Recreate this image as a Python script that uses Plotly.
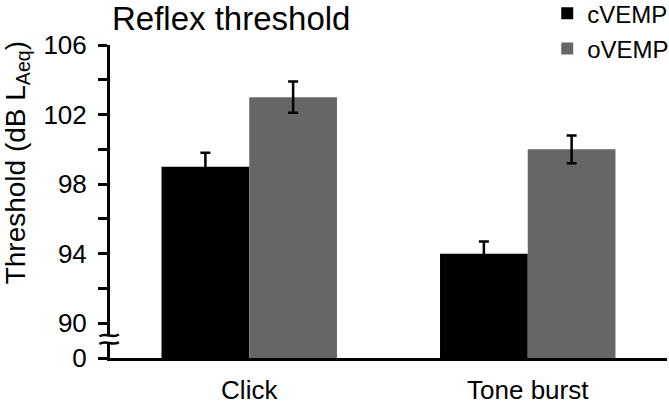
import plotly.graph_objects as go

# Reflex threshold data (dB LAeq); broken y axis: "0" sits just below 90
stimuli = ["Click", "Tone burst"]
cvemp = [99, 94]
cvemp_err = [0.8, 0.7]
ovemp = [103, 100]
ovemp_err = [0.9, 0.8]

tick_vals = [88, 90, 92, 94, 96, 98, 100, 102, 104, 106]
tick_text = ["0", "90", "", "94", "", "98", "", "102", "", "106"]

FONT = "Arial, Liberation Sans, sans-serif"

fig = go.Figure()
fig.add_bar(
    x=stimuli, y=cvemp, name="cVEMP", legendgroup="c",
    marker=dict(color="#000000", line=dict(width=0)),
    error_y=dict(type="data", array=cvemp_err, color="black", thickness=2.5, width=5),
)
fig.add_bar(
    x=stimuli, y=ovemp, name="oVEMP", legendgroup="o",
    marker=dict(color="#666666", line=dict(width=0)),
    error_y=dict(type="data", array=ovemp_err, color="black", thickness=2.5, width=5),
)

# axis break marks
fig.add_shape(type="rect", xref="paper", yref="y", x0=-0.012, x1=0.012, y0=88.92, y1=89.24,
              fillcolor="white", line=dict(width=0), layer="above")
for yb in [89.30, 88.86]:
    fig.add_shape(
        type="path", xref="paper", yref="y", layer="above",
        path=f"M -0.019,{yb - 0.05} C -0.006,{yb + 0.2} 0.003,{yb - 0.2} 0.016,{yb + 0.05}",
        line=dict(color="black", width=2.5),
    )

fig.add_annotation(
    text="Reflex threshold", xref="paper", yref="paper", x=0.0, y=1.085,
    xanchor="left", yanchor="middle", showarrow=False,
    font=dict(size=33, color="black", family=FONT),
)
fig.add_annotation(
    text="Threshold (dB L<sub>Aeq</sub>)", xref="paper", yref="paper",
    x=-0.167, y=0.625, xanchor="center", yanchor="middle", textangle=-90,
    showarrow=False, font=dict(size=28, color="black", family=FONT),
)

fig.update_layout(
    barmode="group",
    bargap=0.37,
    bargroupgap=0,
    width=669,
    height=404,
    plot_bgcolor="white",
    paper_bgcolor="white",
    font=dict(family=FONT, color="black"),
    margin=dict(l=110, r=2, t=45, b=46, autoexpand=False),
    showlegend=True,
    legend=dict(
        xref="container", yref="paper",
        x=0.818, y=1.172, xanchor="left", yanchor="top",
        font=dict(size=24, color="black", family=FONT),
        tracegroupgap=1, itemwidth=30, bgcolor="rgba(0,0,0,0)",
    ),
)

fig.update_xaxes(
    showline=True, linecolor="black", linewidth=3, automargin=False,
    ticks="", showgrid=False, ticklabelstandoff=7,
    tickfont=dict(size=26, color="black", family=FONT),
)
fig.update_yaxes(
    range=[88, 106], showline=True, linecolor="black", linewidth=3, automargin=False,
    tickvals=tick_vals, ticktext=tick_text,
    ticks="outside", ticklen=9, tickwidth=3, tickcolor="black",
    ticklabelstandoff=6, showgrid=False, zeroline=False,
    tickfont=dict(size=26, color="black", family=FONT),
)

fig.write_html(
    "out.html",
    config={"displayModeBar": False},
    post_script="document.body.style.margin = '0';",
)
